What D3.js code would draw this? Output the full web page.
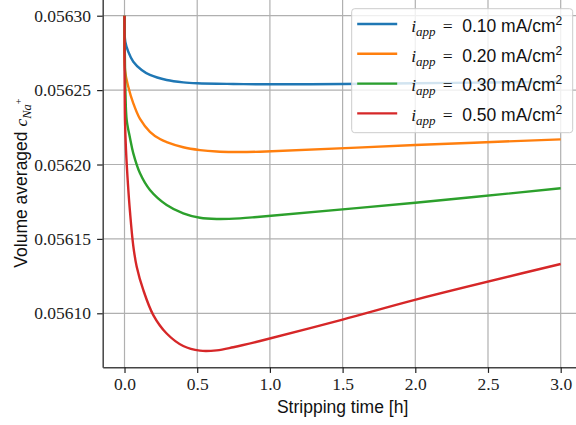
<!DOCTYPE html>
<html>
<head>
<meta charset="utf-8">
<script src="https://cdn.jsdelivr.net/npm/d3@7"></script>
<style>
  html, body { margin: 0; padding: 0; background: #fff; }
  svg { display: block; }
  .serif { font-family: "Liberation Serif", serif !important; }
  .sans { font-family: "Liberation Sans", sans-serif !important; }
</style>
</head>
<body>
<svg id="chart"></svg>
<script>
// Stripping time [h] and volume averaged c_Na+ for each applied current
const tBlue = [0, 0.0055, 0.026, 0.0605, 0.118, 0.175, 0.29, 0.404, 0.5, 0.748, 0.932, 1.5, 2.0, 2.5, 3.0];
const cBlue = [0.05630, 0.0562825, 0.0562758, 0.0562691, 0.0562635, 0.0562602, 0.0562568, 0.0562552, 0.0562546, 0.0562541, 0.0562539, 0.0562541, 0.0562546, 0.0562551, 0.0562556];

const tOrange = [0, 0.0034, 0.026, 0.0605, 0.1066, 0.175, 0.244, 0.29, 0.404, 0.519, 0.634, 0.748, 0.932, 2.0, 3.0];
const cOrange = [0.05630, 0.0562635, 0.0562523, 0.0562411, 0.0562306, 0.0562220, 0.0562171, 0.0562151, 0.0562116, 0.0562097, 0.0562087, 0.0562084, 0.0562086, 0.0562131, 0.0562169];

const tGreen = [0, 0.0069, 0.0151, 0.0378, 0.0605, 0.1066, 0.175, 0.29, 0.404, 0.519, 0.634, 0.794, 0.932, 2.0, 3.0];
const cGreen = [0.05630, 0.0562467, 0.0562299, 0.0562178, 0.0562075, 0.0561941, 0.0561829, 0.0561728, 0.0561672, 0.0561642, 0.0561634, 0.0561638, 0.0561649, 0.0561743, 0.056184];

const tRed = [0, 0.0034, 0.0103, 0.0241, 0.0378, 0.0605, 0.0839, 0.129, 0.198, 0.29, 0.404, 0.519, 0.634, 0.748, 0.932, 1.5, 2.01, 3.0];
const cRed = [0.05630, 0.0562299, 0.0562097, 0.0561862, 0.0561681, 0.0561452, 0.0561313, 0.0561157, 0.0560988, 0.0560864, 0.0560780, 0.0560749, 0.0560751, 0.0560772, 0.0560814, 0.0560958, 0.0561094, 0.0561331];

const currents = ["0.10", "0.20", "0.30", "0.50"];
const colors = ["#1f77b4", "#ff7f0e", "#2ca02c", "#d62728"];

const xTicks = [0, 0.5, 1.0, 1.5, 2.0, 2.5, 3.0];
const yTicks = [0.05610, 0.05615, 0.05620, 0.05625, 0.05630];

const series = [
    { t: tBlue, c: cBlue },
    { t: tOrange, c: cOrange },
    { t: tGreen, c: cGreen },
    { t: tRed, c: cRed }
];

// Window dimensions (the axes run a bit past the right and top edge)
const width = 576;
const height = 425;
const axLeft = 102.7, axRight = 582.5, axTop = -1.1, axBottom = 367.3;
const fs = 17.5;

const svg = d3.select("#chart")
    .attr("width", width)
    .attr("height", height);

const x = d3.scaleLinear().domain([-0.15, 3.15]).range([axLeft, axRight]);
const y = d3.scaleLinear().domain([0.0560637, 0.0563113]).range([axBottom, axTop]);

svg.append("defs").append("clipPath").attr("id", "clip")
    .append("rect")
    .attr("x", axLeft).attr("y", axTop)
    .attr("width", axRight - axLeft).attr("height", axBottom - axTop);

// grid
const grid = svg.append("g").attr("class", "grid");
grid.selectAll("line.gx").data(xTicks).join("line")
    .attr("x1", d => x(d)).attr("x2", d => x(d))
    .attr("y1", axTop).attr("y2", axBottom)
    .attr("stroke", "#b0b0b0").attr("stroke-width", 1.2);
grid.selectAll("line.gy").data(yTicks).join("line")
    .attr("x1", axLeft).attr("x2", axRight)
    .attr("y1", d => y(d)).attr("y2", d => y(d))
    .attr("stroke", "#b0b0b0").attr("stroke-width", 1.2);

// curves
const line = d3.line()
    .x(d => x(d[0]))
    .y(d => y(d[1]))
    .curve(d3.curveCatmullRom.alpha(0.5));

svg.append("g").attr("clip-path", "url(#clip)")
    .selectAll("path")
    .data(series)
    .join("path")
    .attr("d", s => line(s.t.map((t, i) => [t, s.c[i]])))
    .attr("fill", "none")
    .attr("stroke", (s, i) => colors[i])
    .attr("stroke-width", 2.4)
    .attr("stroke-linejoin", "round");

// axes
const xAxis = svg.append("g")
    .attr("transform", `translate(0,${axBottom})`)
    .call(d3.axisBottom(x).tickValues(xTicks).tickFormat(d3.format(".1f")).tickSize(5.6).tickPadding(5).tickSizeOuter(0));
const yAxis = svg.append("g")
    .attr("transform", `translate(${axLeft},0)`)
    .call(d3.axisLeft(y).tickValues(yTicks).tickFormat(d3.format(".5f")).tickSize(5.6).tickPadding(6).tickSizeOuter(0));

[xAxis, yAxis].forEach(ax => {
    ax.attr("font-family", null).attr("font-size", null);
    ax.select(".domain").attr("stroke", "#444").attr("stroke-width", 1.5);
    ax.selectAll(".tick line").attr("stroke", "#222").attr("stroke-width", 1.2);
    ax.selectAll(".tick text")
        .attr("class", "serif")
        .attr("fill", "#222")
        .style("font-size", fs + "px");
});

// axis labels
svg.append("text")
    .attr("class", "sans")
    .attr("x", (axLeft + axRight) / 2)
    .attr("y", 413)
    .attr("text-anchor", "middle")
    .style("font-size", fs + "px")
    .attr("fill", "#111")
    .text("Stripping time [h]");

const yl = svg.append("text")
    .attr("transform", `translate(27,${(axTop + axBottom) / 2}) rotate(-90)`)
    .attr("text-anchor", "middle")
    .style("font-size", fs + "px")
    .attr("fill", "#111");
yl.append("tspan").attr("class", "sans").text("Volume averaged ");
yl.append("tspan").attr("class", "serif").style("font-style", "italic").text("c");
yl.append("tspan").attr("class", "serif").style("font-style", "italic")
    .style("font-size", "12.5px").attr("dy", 4).text("Na");
yl.append("tspan").attr("class", "serif")
    .style("font-size", "10px").attr("dy", -9).text("+");

// legend
const legend = svg.append("g").attr("transform", "translate(351.7,8.7)");
legend.append("rect")
    .attr("width", 221).attr("height", 124)
    .attr("rx", 3)
    .attr("fill", "#fff").attr("fill-opacity", 0.8)
    .attr("stroke", "#ccc").attr("stroke-width", 1);

const entry = legend.selectAll("g.entry")
    .data(currents)
    .join("g")
    .attr("class", "entry")
    .attr("transform", (d, i) => `translate(0,${15.3 + i * 29.8})`);

entry.append("line")
    .attr("x1", 5.5).attr("x2", 45.5)
    .attr("stroke", (d, i) => colors[i])
    .attr("stroke-width", 2.4);

const lt = entry.append("text")
    .attr("y", 7.7)
    .style("font-size", fs + "px")
    .attr("fill", "#111");
lt.append("tspan").attr("class", "serif").attr("x", 59.5).style("font-style", "italic").text("i");
lt.append("tspan").attr("class", "serif").style("font-style", "italic")
    .style("font-size", "13px").attr("dy", 4).text("app");
lt.append("tspan").attr("class", "serif").attr("x", 91).attr("dy", -4).text("=");
lt.append("tspan").attr("class", "sans").attr("x", 110.5).text(d => d + " mA/cm");
lt.append("tspan").attr("class", "sans").style("font-size", "12px").attr("dy", -7).text("2");
</script>
</body>
</html>
